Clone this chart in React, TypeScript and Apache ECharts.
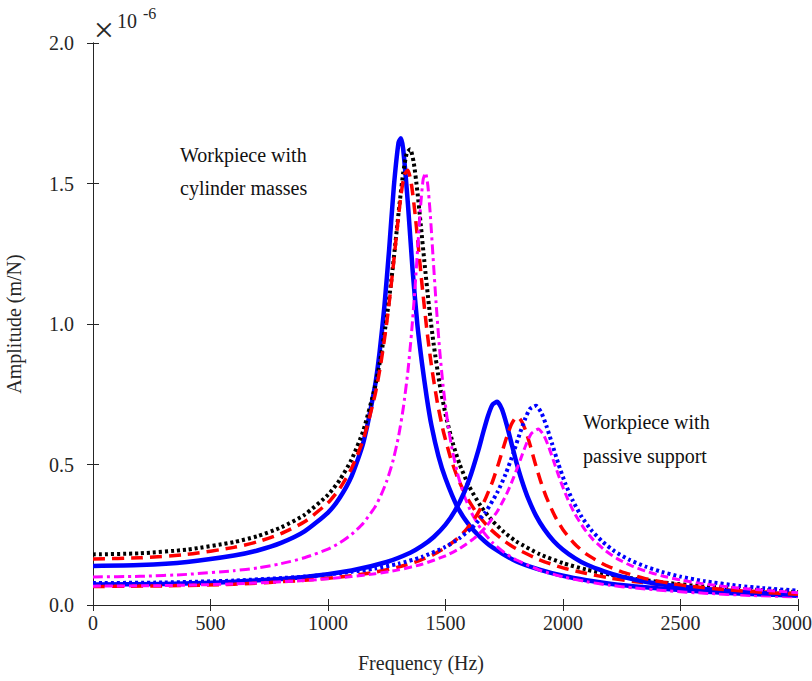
import React, { useEffect, useRef } from "react";
import * as echarts from "echarts";

// Axis ticks
const xTicks = [0, 500, 1000, 1500, 2000, 2500, 3000];
const yTicks = [0, 0.5, 1.0, 1.5, 2.0];

// Workpiece with cylinder masses (amplitude in 1e-6 m/N)
const freqBlueSolidCyl = [0, 200, 400, 600, 700, 800, 900, 1000, 1050, 1100, 1150, 1200, 1220, 1240, 1260, 1280, 1300, 1310, 1320, 1340, 1360, 1380, 1400, 1420, 1440, 1470, 1500, 1550, 1600, 1650, 1700, 1800, 1900, 2000, 2100, 2200, 2350, 2500, 2650, 2800, 3000];
const ampBlueSolidCyl = [0.139, 0.142, 0.153, 0.176, 0.194, 0.221, 0.262, 0.329, 0.382, 0.458, 0.577, 0.78, 0.903, 1.063, 1.264, 1.487, 1.645, 1.661, 1.622, 1.428, 1.192, 1.0, 0.86, 0.74, 0.64, 0.53, 0.45, 0.35, 0.285, 0.24, 0.205, 0.156, 0.126, 0.104, 0.088, 0.076, 0.063, 0.053, 0.045, 0.039, 0.033];

const freqBlackDotCyl = [0, 200, 400, 600, 700, 800, 900, 1000, 1050, 1100, 1150, 1200, 1225, 1250, 1270, 1290, 1305, 1320, 1335, 1350, 1365, 1380, 1395, 1410, 1430, 1450, 1475, 1500, 1530, 1560, 1600, 1650, 1700, 1750, 1800, 1900, 2000, 2100, 2200, 2300, 2450, 2600, 2800, 3000];
const ampBlackDotCyl = [0.18, 0.184, 0.197, 0.224, 0.245, 0.276, 0.321, 0.392, 0.445, 0.517, 0.62, 0.776, 0.885, 1.023, 1.159, 1.313, 1.432, 1.538, 1.607, 1.622, 1.573, 1.474, 1.351, 1.223, 1.062, 0.926, 0.787, 0.679, 0.579, 0.501, 0.423, 0.352, 0.299, 0.259, 0.227, 0.181, 0.149, 0.126, 0.108, 0.094, 0.078, 0.066, 0.055, 0.046];

const freqRedDashCyl = [0, 200, 400, 600, 700, 800, 900, 1000, 1050, 1100, 1150, 1200, 1225, 1250, 1265, 1280, 1295, 1310, 1325, 1340, 1355, 1370, 1385, 1400, 1420, 1440, 1465, 1490, 1520, 1550, 1590, 1640, 1690, 1750, 1800, 1900, 2000, 2100, 2200, 2300, 2450, 2600, 2800, 3000];
const ampRedDashCyl = [0.164, 0.168, 0.18, 0.205, 0.225, 0.254, 0.296, 0.364, 0.415, 0.486, 0.588, 0.747, 0.86, 1.005, 1.11, 1.225, 1.345, 1.455, 1.531, 1.547, 1.497, 1.396, 1.27, 1.141, 0.984, 0.853, 0.722, 0.621, 0.528, 0.456, 0.384, 0.319, 0.271, 0.228, 0.201, 0.161, 0.132, 0.112, 0.096, 0.084, 0.07, 0.059, 0.049, 0.041];

const freqMagentaDashDotCyl = [0, 200, 400, 600, 700, 800, 900, 1000, 1050, 1100, 1150, 1200, 1225, 1250, 1275, 1300, 1320, 1340, 1355, 1370, 1385, 1395, 1405, 1415, 1425, 1435, 1447, 1460, 1475, 1490, 1510, 1530, 1555, 1580, 1610, 1650, 1700, 1750, 1800, 1900, 2000, 2100, 2200, 2300, 2450, 2600, 2800, 3000];
const ampMagentaDashDotCyl = [0.1, 0.102, 0.109, 0.122, 0.132, 0.147, 0.168, 0.199, 0.221, 0.251, 0.291, 0.349, 0.39, 0.441, 0.508, 0.599, 0.699, 0.832, 0.964, 1.126, 1.312, 1.43, 1.515, 1.538, 1.492, 1.393, 1.239, 1.074, 0.909, 0.778, 0.645, 0.546, 0.456, 0.389, 0.329, 0.272, 0.222, 0.187, 0.161, 0.124, 0.1, 0.083, 0.07, 0.061, 0.05, 0.042, 0.034, 0.029];

// Workpiece with passive support
const freqBlueSolidSup = [0, 300, 600, 900, 1100, 1250, 1350, 1400, 1450, 1500, 1540, 1580, 1610, 1640, 1660, 1680, 1700, 1720, 1740, 1760, 1780, 1800, 1825, 1850, 1885, 1920, 1960, 2000, 2050, 2100, 2175, 2250, 2350, 2450, 2550, 2700, 2850, 3000];
const ampBlueSolidSup = [0.073, 0.075, 0.083, 0.1, 0.123, 0.153, 0.186, 0.21, 0.242, 0.286, 0.335, 0.402, 0.469, 0.551, 0.613, 0.671, 0.713, 0.723, 0.697, 0.643, 0.578, 0.513, 0.442, 0.383, 0.318, 0.27, 0.228, 0.197, 0.167, 0.144, 0.12, 0.101, 0.083, 0.07, 0.061, 0.05, 0.042, 0.036];

const freqRedDashSup = [0, 300, 600, 900, 1100, 1200, 1300, 1380, 1450, 1500, 1550, 1590, 1630, 1665, 1700, 1725, 1750, 1765, 1780, 1795, 1810, 1825, 1840, 1860, 1880, 1905, 1930, 1965, 2000, 2050, 2100, 2175, 2250, 2350, 2450, 2550, 2700, 2850, 3000];
const ampRedDashSup = [0.066, 0.068, 0.074, 0.088, 0.104, 0.117, 0.135, 0.155, 0.18, 0.204, 0.236, 0.27, 0.316, 0.369, 0.439, 0.502, 0.57, 0.609, 0.642, 0.663, 0.667, 0.652, 0.623, 0.569, 0.509, 0.44, 0.382, 0.317, 0.268, 0.217, 0.181, 0.144, 0.118, 0.094, 0.078, 0.066, 0.054, 0.045, 0.038];

const freqBlueDotSup = [0, 300, 600, 900, 1100, 1200, 1300, 1400, 1500, 1560, 1620, 1670, 1720, 1755, 1790, 1815, 1840, 1860, 1885, 1908, 1930, 1955, 1980, 2010, 2040, 2080, 2120, 2170, 2220, 2280, 2350, 2420, 2500, 2600, 2750, 2850, 3000];
const ampBlueDotSup = [0.078, 0.08, 0.087, 0.101, 0.118, 0.13, 0.147, 0.171, 0.207, 0.238, 0.281, 0.33, 0.4, 0.464, 0.544, 0.607, 0.665, 0.698, 0.709, 0.684, 0.636, 0.57, 0.503, 0.432, 0.374, 0.313, 0.267, 0.224, 0.191, 0.162, 0.137, 0.118, 0.101, 0.085, 0.068, 0.06, 0.051];

const freqMagentaDashSup = [0, 300, 600, 900, 1100, 1200, 1300, 1400, 1500, 1560, 1620, 1670, 1720, 1760, 1790, 1820, 1840, 1865, 1895, 1918, 1940, 1965, 1990, 2020, 2050, 2090, 2130, 2180, 2230, 2290, 2350, 2420, 2500, 2600, 2750, 2850, 3000];
const ampMagentaDashSup = [0.067, 0.069, 0.075, 0.087, 0.101, 0.111, 0.125, 0.145, 0.175, 0.201, 0.236, 0.276, 0.333, 0.395, 0.454, 0.52, 0.565, 0.61, 0.626, 0.604, 0.561, 0.5, 0.44, 0.377, 0.325, 0.272, 0.231, 0.194, 0.165, 0.14, 0.121, 0.104, 0.089, 0.075, 0.06, 0.053, 0.044];

const FONT = "'Times New Roman', 'Liberation Serif', 'DejaVu Serif', serif";
const TXT = "#262626";

const zip = (f: number[], a: number[]) => f.map((v, i) => [v, a[i]]);

const curves = [
  { name: "Cyl blue solid", f: freqBlueSolidCyl, a: ampBlueSolidCyl, color: "#0000ff", width: 4.5, type: "solid" as any },
  { name: "Cyl black dotted", f: freqBlackDotCyl, a: ampBlackDotCyl, color: "#000000", width: 4, type: [3, 3] },
  { name: "Cyl red dashed", f: freqRedDashCyl, a: ampRedDashCyl, color: "#ff0000", width: 3.5, type: [12, 7] },
  { name: "Cyl magenta dashdot", f: freqMagentaDashDotCyl, a: ampMagentaDashDotCyl, color: "#ff00ff", width: 3, type: [10, 4, 3, 4] },
  { name: "Sup blue solid", f: freqBlueSolidSup, a: ampBlueSolidSup, color: "#0000ff", width: 4.5, type: "solid" as any },
  { name: "Sup red dashed", f: freqRedDashSup, a: ampRedDashSup, color: "#ff0000", width: 3.5, type: [12, 7] },
  { name: "Sup blue dotted", f: freqBlueDotSup, a: ampBlueDotSup, color: "#0000ff", width: 4, type: [3, 3] },
  { name: "Sup magenta dashed", f: freqMagentaDashSup, a: ampMagentaDashSup, color: "#ff00ff", width: 3, type: [8, 4] },
];

export default function App() {
  const ref = useRef<HTMLDivElement>(null);
  useEffect(() => {
    document.body.style.margin = "0";
    document.documentElement.style.overflow = "hidden";
    const chart = echarts.init(ref.current!, undefined, { renderer: "svg" });
    const axisLine = { show: true, lineStyle: { color: TXT, width: 1 } };
    const tick = { show: true, inside: true, length: 6, lineStyle: { color: TXT, width: 1 } };
    const textStyle = (size: number) => `${size}px ${FONT}`;
    chart.setOption({
      animation: false,
      backgroundColor: "#ffffff",
      textStyle: { fontFamily: FONT },
      grid: { left: 93, right: 14, top: 43, bottom: 76, containLabel: false, outerBoundsMode: "none" } as any,
      xAxis: [
        {
          type: "value", min: 0, max: 3000, interval: 500, position: "bottom",
          axisLine, axisTick: tick, splitLine: { show: false },
          axisLabel: {
            margin: 8, color: TXT, fontFamily: FONT, fontSize: 20, hideOverlap: false,
            formatter: (v: number) => (v === 3000 ? "{e|3000}" : xTicks.includes(v) ? String(v) : ""),
            rich: { e: { color: TXT, fontFamily: FONT, fontSize: 20, padding: [0, 12, 0, 0] } },
          },
        },
        {
          type: "value", min: 0, max: 3000, interval: 500, position: "top",
          axisLine, axisTick: tick, splitLine: { show: false }, axisLabel: { show: false },
        },
      ],
      yAxis: [
        {
          type: "value", min: 0, max: 2, interval: 0.5, position: "left",
          name: "Amplitude (m/N)", nameLocation: "middle", nameGap: 69,
          nameTextStyle: { color: TXT, fontFamily: FONT, fontSize: 20 },
          axisLine, axisTick: tick, splitLine: { show: false },
          axisLabel: {
            margin: 19, color: TXT, fontFamily: FONT, fontSize: 20,
            formatter: (v: number) => (yTicks.includes(v) ? v.toFixed(1) : ""),
          },
        },
        {
          type: "value", min: 0, max: 2, interval: 0.5, position: "right",
          axisLine, axisTick: tick, splitLine: { show: false }, axisLabel: { show: false },
        },
      ],
      graphic: [
        { type: "text", x: 421, y: 663, style: { text: "Frequency (Hz)", fill: TXT, font: textStyle(20), textAlign: "center", textVerticalAlign: "middle" } },
        { type: "text", x: 104, y: 30, style: { text: "×", fill: TXT, font: textStyle(36), textAlign: "center", textVerticalAlign: "middle" } },
        { type: "text", x: 117, y: 21, style: { text: "10", fill: TXT, font: textStyle(20), textAlign: "left", textVerticalAlign: "middle" } },
        { type: "text", x: 143, y: 13, style: { text: "-6", fill: TXT, font: textStyle(16), textAlign: "left", textVerticalAlign: "middle" } },
        { type: "text", x: 180, y: 155, style: { text: "Workpiece with", fill: "#111", font: textStyle(20), textAlign: "left", textVerticalAlign: "middle" } },
        { type: "text", x: 180, y: 188, style: { text: "cylinder masses", fill: "#111", font: textStyle(20), textAlign: "left", textVerticalAlign: "middle" } },
        { type: "text", x: 583, y: 422, style: { text: "Workpiece with", fill: "#111", font: textStyle(20), textAlign: "left", textVerticalAlign: "middle" } },
        { type: "text", x: 583, y: 456, style: { text: "passive support", fill: "#111", font: textStyle(20), textAlign: "left", textVerticalAlign: "middle" } },
      ],
      series: curves.map((c) => ({
        name: c.name,
        type: "line",
        xAxisIndex: 0,
        yAxisIndex: 0,
        data: zip(c.f, c.a),
        smooth: 0.2,
        showSymbol: false,
        symbol: "none",
        clip: true,
        lineStyle: { color: c.color, width: c.width, type: c.type, cap: "butt", join: "round" },
      })),
    });
    return () => chart.dispose();
  }, []);
  return <div ref={ref} style={{ width: 812, height: 681, position: "fixed", left: 0, top: 0 }} />;
}
